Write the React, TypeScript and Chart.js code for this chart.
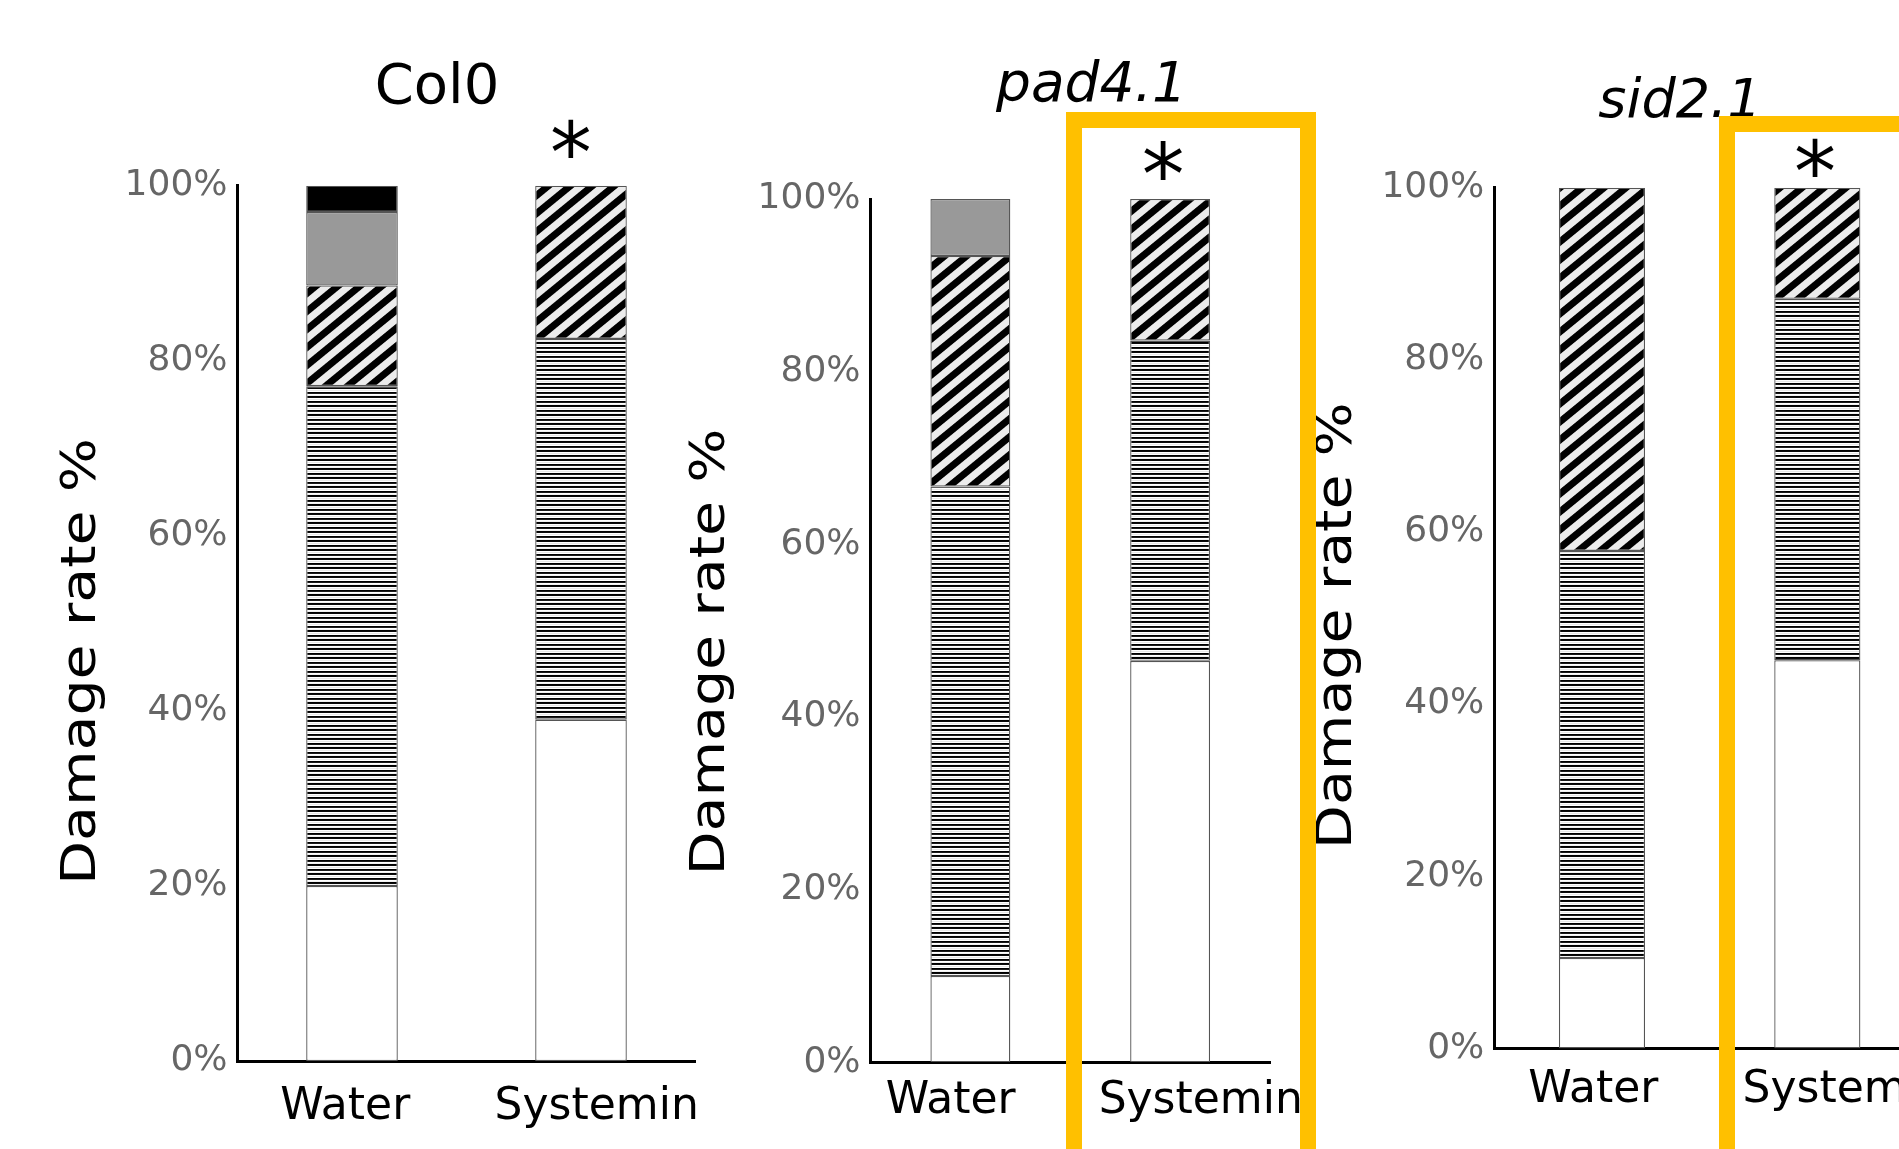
import React, { useEffect, useRef } from "react";
import { Chart, registerables } from "chart.js";

Chart.register(...registerables);
Chart.defaults.font.family = "'DejaVu Sans', sans-serif";

// ---------------- data ----------------
const categories = ["Water", "Systemin"];
const panelTitles = ["Col0", "pad4.1", "sid2.1"];
const yTickValues = [0, 20, 40, 60, 80, 100];
const significance = ["", "*"];
const yAxisTitle = "Damage rate %";
const seriesNames = ["Class 1", "Class 2", "Class 3", "Class 4", "Class 5"];

// Col0 (Water, Systemin) — stacked from bottom
const col0Class1 = [20.0, 39.0];
const col0Class2 = [57.1, 43.5];
const col0Class3 = [11.5, 17.5];
const col0Class4 = [8.4, 0];
const col0Class5 = [3.0, 0];

// pad4.1
const pad4Class1 = [10.0, 46.5];
const pad4Class2 = [56.7, 37.1];
const pad4Class3 = [26.7, 16.4];
const pad4Class4 = [6.6, 0];
const pad4Class5 = [0, 0];

// sid2.1
const sid2Class1 = [10.5, 45.1];
const sid2Class2 = [47.3, 42.0];
const sid2Class3 = [42.2, 12.9];
const sid2Class4 = [0, 0];
const sid2Class5 = [0, 0];

// ---------------- layout ----------------
const H = 1149;

type PanelCfg = {
  left: number;
  width: number;
  area: { l: number; r: number; t: number; b: number };
  title: string;
  titleItalic: boolean;
  titleSize: number;
  titleX: number;
  titleY: number;
  yLabelX: number;
  yLabelY: number;
  yLabelSqueeze: number;
  labelDx: number[];
  labelDy: number;
  starDx: number;
  starTop: number;
  starH: number;
  series: number[][];
};

const panels: PanelCfg[] = [
  {
    left: 0, width: 700,
    area: { l: 237.5, r: 695.5, t: 185.7, b: 1061 },
    title: panelTitles[0], titleItalic: false, titleSize: 56, titleX: 437, titleY: 103.3,
    yLabelX: 94.5, yLabelY: 661.5, yLabelSqueeze: 0.83,
    labelDx: [-6.8, 15.7], labelDy: 58,
    starDx: -9.9, starTop: 119, starH: 38.3,
    series: [col0Class1, col0Class2, col0Class3, col0Class4, col0Class5],
  },
  {
    left: 680, width: 640,
    area: { l: 870.5, r: 1270, t: 199, b: 1062.3 },
    title: panelTitles[1], titleItalic: true, titleSize: 55, titleX: 1091.5, titleY: 101,
    yLabelX: 723.5, yLabelY: 652, yLabelSqueeze: 0.83,
    labelDx: [-19.7, 30.6], labelDy: 50.3,
    starDx: -6.9, starTop: 140, starH: 39.3,
    series: [pad4Class1, pad4Class2, pad4Class3, pad4Class4, pad4Class5],
  },
  {
    left: 1300, width: 640,
    area: { l: 1494.3, r: 1925, t: 187.7, b: 1048.4 },
    title: panelTitles[2], titleItalic: true, titleSize: 54, titleX: 1680, titleY: 116.5,
    yLabelX: 1351.4, yLabelY: 625.6, yLabelSqueeze: 0.86,
    labelDx: [-8.7, 27.3], labelDy: 54,
    starDx: -2.4, starTop: 138, starH: 38.7,
    series: [sid2Class1, sid2Class2, sid2Class3, sid2Class4, sid2Class5],
  },
];

// ---------------- patterns ----------------
function makeHorizontalTile(): HTMLCanvasElement {
  const c = document.createElement("canvas");
  c.width = 4;
  c.height = 9;
  const g = c.getContext("2d")!;
  const rows = ["#000", "#0a0a0a", "#fff", "#e8e8e8", "#fff", "#000", "#1a1a1a", "#fff", "#f0f0f0"];
  rows.forEach((col, i) => {
    g.fillStyle = col;
    g.fillRect(0, i, 4, 1);
  });
  return c;
}

function makeDiagonalTile(): HTMLCanvasElement {
  const W = 22;
  const Ht = 18;
  const c = document.createElement("canvas");
  c.width = W;
  c.height = Ht;
  const g = c.getContext("2d")!;
  const img = g.createImageData(W, Ht);
  const light = 236;
  const N = 4;
  for (let py = 0; py < Ht; py++) {
    for (let px = 0; px < W; px++) {
      let dark = 0;
      for (let i = 0; i < N; i++) {
        for (let j = 0; j < N; j++) {
          const x = px + (i + 0.5) / N;
          const y = py + (j + 0.5) / N;
          let s = x / W + y / Ht;
          s = s - Math.floor(s);
          if (s < 0.5) dark++;
        }
      }
      const cov = dark / (N * N);
      const v = Math.round(light * (1 - cov));
      const k = (py * W + px) * 4;
      img.data[k] = v;
      img.data[k + 1] = v;
      img.data[k + 2] = v;
      img.data[k + 3] = 255;
    }
  }
  g.putImageData(img, 0, 0);
  return c;
}

// ---------------- overlay plugin ----------------
function overlayPlugin(cfg: PanelCfg) {
  return {
    id: "panelOverlay",
    afterDraw(chart: any) {
      const ctx: CanvasRenderingContext2D = chart.ctx;
      const xs = chart.scales.x;
      const ys = chart.scales.y;
      const fam = "'DejaVu Sans', sans-serif";
      ctx.save();
      ctx.fillStyle = "#000";

      // panel title
      ctx.font = `${cfg.titleItalic ? "italic " : ""}${cfg.titleSize}px ${fam}`;
      ctx.textAlign = "center";
      ctx.textBaseline = "alphabetic";
      ctx.fillText(cfg.title, cfg.titleX - cfg.left, cfg.titleY);

      // category labels
      ctx.font = `44px ${fam}`;
      categories.forEach((c, i) => {
        ctx.fillText(c, xs.getPixelForValue(i) + cfg.labelDx[i], ys.getPixelForValue(0) + cfg.labelDy);
      });

      // y axis title (narrow)
      ctx.save();
      ctx.translate(cfg.yLabelX - cfg.left, cfg.yLabelY);
      ctx.rotate(-Math.PI / 2);
      ctx.scale(1, cfg.yLabelSqueeze);
      ctx.font = `57px ${fam}`;
      ctx.textAlign = "center";
      ctx.textBaseline = "alphabetic";
      ctx.fillText(yAxisTitle, 0, 0);
      ctx.restore();

      // significance marks
      significance.forEach((mark, i) => {
        if (!mark) return;
        ctx.font = `100px ${fam}`;
        const m0 = ctx.measureText(mark);
        const h0 = m0.actualBoundingBoxAscent + m0.actualBoundingBoxDescent;
        const size = (100 * cfg.starH) / h0;
        ctx.font = `${size}px ${fam}`;
        ctx.textAlign = "left";
        ctx.textBaseline = "alphabetic";
        const m = ctx.measureText(mark);
        const cx = xs.getPixelForValue(i) + cfg.starDx;
        const x = cx - (m.actualBoundingBoxRight - m.actualBoundingBoxLeft) / 2;
        const y = cfg.starTop + m.actualBoundingBoxAscent;
        ctx.fillText(mark, x, y);
      });

      ctx.restore();
    },
  };
}

// ---------------- panel ----------------
function Panel({ cfg }: { cfg: PanelCfg }) {
  const ref = useRef<HTMLCanvasElement>(null);

  useEffect(() => {
    const canvas = ref.current!;
    const c2d = canvas.getContext("2d")!;
    const horiz = c2d.createPattern(makeHorizontalTile(), "repeat");
    const diag = c2d.createPattern(makeDiagonalTile(), "repeat");
    const fills: any[] = ["#ffffff", horiz, diag, "#999999", "#000000"];

    const chart = new Chart(canvas, {
      type: "bar",
      data: {
        labels: categories,
        datasets: cfg.series.map((s, k) => ({
          label: seriesNames[k],
          data: s.map((v) => (v === 0 ? null : v)),
          backgroundColor: fills[k],
          borderColor: "#555555",
          borderWidth: 1.3,
          borderSkipped: false,
          barPercentage: 0.4,
          categoryPercentage: 1,
        })),
      },
      options: {
        responsive: false,
        animation: false,
        devicePixelRatio: 1,
        layout: {
          padding: {
            left: 0,
            top: cfg.area.t,
            right: cfg.width - (cfg.area.r - cfg.left),
            bottom: 0,
          },
        },
        plugins: {
          legend: { display: false },
          tooltip: { enabled: false },
          title: { display: false },
        },
        scales: {
          x: {
            stacked: true,
            grid: { display: false, drawTicks: false },
            ticks: { display: false },
            border: { display: true, color: "#000", width: 3 },
            afterFit: (s: any) => {
              s.height = H - cfg.area.b;
            },
          },
          y: {
            stacked: true,
            min: 0,
            max: 100,
            grid: { display: false, drawTicks: false },
            border: { display: true, color: "#000", width: 3 },
            ticks: {
              color: "#666666",
              font: { size: 36 },
              padding: 10,
              callback: (v: any) => `${v}%`,
            },
            afterBuildTicks: (s: any) => {
              s.ticks = yTickValues.map((v) => ({ value: v }));
            },
            afterFit: (s: any) => {
              s.width = cfg.area.l - cfg.left;
            },
          },
        },
      } as any,
      plugins: [overlayPlugin(cfg)],
    });
    return () => chart.destroy();
  }, [cfg]);

  return (
    <canvas
      ref={ref}
      width={cfg.width}
      height={H}
      style={{ position: "absolute", left: cfg.left, top: 0, width: cfg.width, height: H }}
    />
  );
}

const highlightColor = "#FFC000";

export default function App() {
  return (
    <div
      style={{
        position: "fixed",
        left: 0,
        top: 0,
        width: 1899,
        height: 1149,
        overflow: "hidden",
        background: "#fff",
      }}
    >
      {panels.map((p, i) => (
        <Panel key={i} cfg={p} />
      ))}
      <div
        style={{
          position: "absolute",
          left: 1066,
          top: 112,
          width: 250,
          height: 1200,
          boxSizing: "border-box",
          border: `16px solid ${highlightColor}`,
          pointerEvents: "none",
        }}
      />
      <div
        style={{
          position: "absolute",
          left: 1719,
          top: 116,
          width: 400,
          height: 1200,
          boxSizing: "border-box",
          border: `16px solid ${highlightColor}`,
          pointerEvents: "none",
        }}
      />
    </div>
  );
}
